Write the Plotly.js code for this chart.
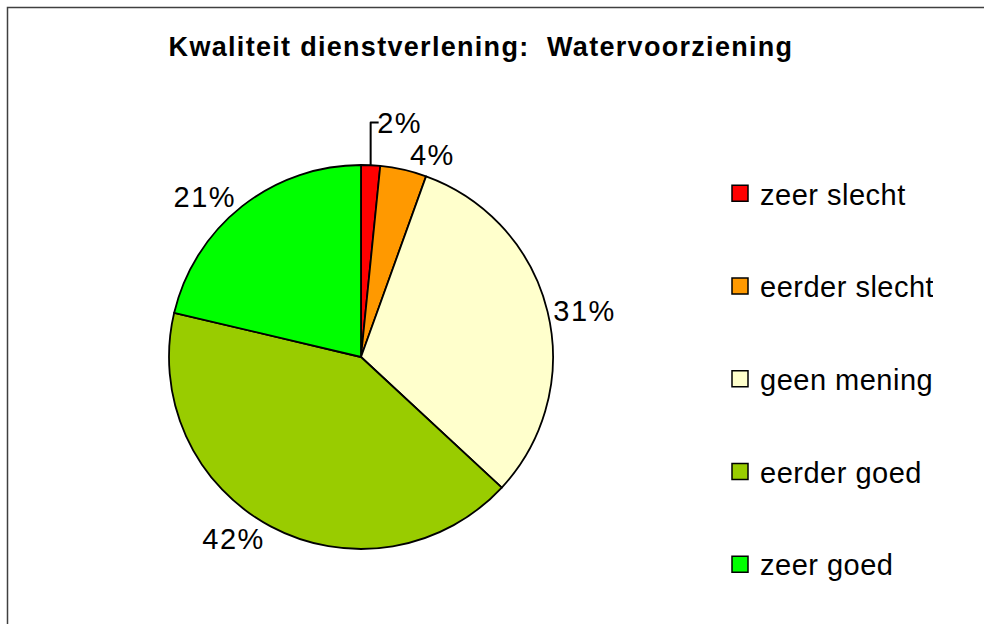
<!DOCTYPE html>
<html>
<head>
<meta charset="utf-8">
<script src="https://cdn.plot.ly/plotly-3.0.1.min.js"></script>
<style>
html,body{margin:0;padding:0;background:#fff;}
#chart{width:984px;height:624px;}
#chart .gtitle{letter-spacing:1.3px;}
#chart .legendtext{letter-spacing:0.5px;}
#chart .slicetext text, #chart text.slicetext{letter-spacing:1.5px;}
</style>
</head>
<body>
<div id="chart"></div>
<script>
const categories = ["zeer slecht", "eerder slecht", "geen mening", "eerder goed", "zeer goed"];
const values = [1.6, 3.9, 31.4, 41.8, 21.3];
const colors = ["#FF0000", "#FF9900", "#FFFFCC", "#99CC00", "#00FF00"];
const chartTitle = "Kwaliteit dienstverlening:  Watervoorziening";

const W = 984, H = 624;
const FONT = "Liberation Sans, Arial, sans-serif";

const pie = {
  type: "pie",
  labels: categories,
  values: values,
  sort: false,
  direction: "clockwise",
  rotation: 0,
  showlegend: false,
  marker: { colors: colors, line: { color: "#000000", width: 1.8 } },
  texttemplate: "%{percent:.0%}",
  textposition: "outside",
  outsidetextfont: { family: FONT, size: 29, color: "#000" },
  domain: { x: [169 / W, 553 / W], y: [(H - 549) / H, (H - 165) / H] },
  hoverinfo: "label+percent"
};

// legend entries (one per category, spaced like the original legend)
const legendTraces = categories.map((c, i) => ({
  type: "scatter",
  mode: "markers",
  x: [null], y: [null],
  name: c,
  legendgroup: "g" + i,
  showlegend: true,
  hoverinfo: "skip",
  marker: { symbol: "square", size: 16, color: colors[i], line: { color: "#000", width: 1.5 } }
}));

const layout = {
  width: W, height: H,
  margin: { l: 0, r: 0, t: 0, b: 0 },
  paper_bgcolor: "#ffffff",
  plot_bgcolor: "#ffffff",
  font: { family: FONT, color: "#000" },
  xaxis: { visible: false, range: [0, 1] },
  yaxis: { visible: false, range: [0, 1] },
  title: {
    text: "<b>" + chartTitle + "</b>",
    font: { family: FONT, size: 27, color: "#000" },
    x: 481 / W, xanchor: "center", xref: "paper",
    y: 1 - 47 / H, yanchor: "middle", yref: "paper"
  },
  showlegend: true,
  legend: {
    x: 720 / W, xanchor: "left",
    y: 1 - 168 / H, yanchor: "top",
    traceorder: "grouped",
    tracegroupgap: 52,
    font: { family: FONT, size: 29, color: "#000" },
    bgcolor: "rgba(0,0,0,0)"
  },
  shapes: [{
    type: "rect", xref: "paper", yref: "paper",
    x0: 7.5 / W, x1: 1.02, y0: -0.02, y1: 1 - 7.5 / H,
    line: { color: "#404040", width: 1.5 }
  }]
};

Plotly.newPlot("chart", [pie].concat(legendTraces), layout, { displayModeBar: false, staticPlot: true });
</script>
</body>
</html>
